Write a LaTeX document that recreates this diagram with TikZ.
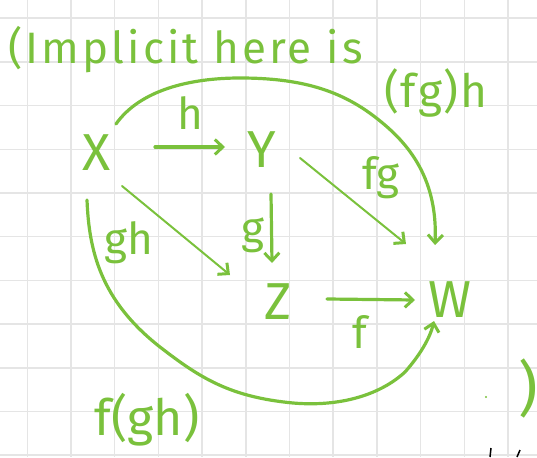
\documentclass[tikz,border=0pt]{standalone}
\usepackage{fontspec}
\setmainfont{Fira Sans}
\usetikzlibrary{arrows.meta}
\definecolor{pen}{RGB}{122,193,60}
\definecolor{gridc}{RGB}{229,229,229}
\tikzset{
  obj/.style={text=pen, font=\fontsize{52}{56}\selectfont, minimum width=40pt, minimum height=44pt, inner sep=0pt},
  lbl/.style={text=pen, font=\fontsize{44}{48}\selectfont, inner sep=0pt},
  stroke/.style={draw=pen, line width=3.2pt, line cap=round, line join=round},
  thin/.style={draw=pen, line width=2pt, line cap=round, line join=round},
  arr/.style={-{Straight Barb[length=8pt,width=15pt,line width=3pt]}},
}
\begin{document}
\begin{tikzpicture}[x=1pt,y=-1pt]
\useasboundingbox (0,0) rectangle (537,457);
% grid paper
\foreach \i in {0,...,11} \draw[gridc, line width=1.5pt] ({27.3+43.7*\i},0) -- ({27.3+43.7*\i},457);
\foreach \j in {0,...,10} \draw[gridc, line width=1.5pt] (0,{18.2+43.7*\j}) -- (537,{18.2+43.7*\j});
% title
\node[lbl, anchor=base west, font=\fontsize{44}{48}\selectfont\addfontfeature{LetterSpace=7}] (title) at (8,64) {(Implicit here is};
\node[lbl, anchor=base west, font=\fontsize{46}{50}\selectfont\addfontfeature{LetterSpace=4}] (fgh) at (384,108) {(fg)h};
% objects
\node[obj] (X) at (97,153) {X};
\node[obj] (Y) at (262,150) {Y};
\node[obj] (Z) at (278,302) {Z};
\node[obj] (W) at (450,300) {W};
% straight arrows
\draw[stroke, arr] ([shift={(58,-6)}]X.center) -- ([shift={(-37,-3)}]Y.center);
\draw[stroke, arr] ([shift={(9,44)}]Y.center) -- ([shift={(-6,-39)}]Z.center);
\draw[stroke, arr] ([shift={(49,-3)}]Z.center) -- ([shift={(-35,0)}]W.center);
\draw[thin, arr] ([shift={(25,33)}]X.center) -- ([shift={(-48,-27)}]Z.center);
\draw[thin, arr] ([shift={(38,8)}]Y.center) -- ([shift={(-44,-56)}]W.center);
% big curves
\draw[stroke, arr] ([shift={(19,-29)}]X.center) .. controls (140,90) and (190,78) .. (240,78)
   .. controls (300,78) and (340,90) .. (375,117)
   .. controls (405,140) and (438,175) .. ([shift={(-15,-55)}]W.center);
\draw[stroke, arr] ([shift={(-10,47)}]X.center) .. controls (89,250) and (100,300) .. (160,347)
   .. controls (200,378) and (230,397) .. (293,403)
   .. controls (340,407) and (380,395) .. (405,372)
   .. controls (420,355) and (430,338) .. ([shift={(-16,21)}]W.center);
% arrow labels
\node[lbl] (lh) at (190,113) {h};
\node[lbl] (lg) at (253,235) {g};
\node[lbl] (lf) at (360,332) {f};
\node[lbl] (lfg) at (381,178) {fg};
\node[lbl] (lgh) at (129,243) {gh};
\node[lbl, font=\fontsize{50}{54}\selectfont] (lfgh) at (147,420) {f(gh)};
\node[lbl, font=\fontsize{60}{64}\selectfont\addfontfeature{FakeBold=-0.3}] (rpar) at (528,388) {)};
% stray marks
\fill[pen] (486,397) circle (1.2pt);
\draw[black, line width=1.5pt] (491,448) -- (490,457);
\draw[black, line width=1.5pt] (520,450) -- (517,457);
\end{tikzpicture}
\end{document}
